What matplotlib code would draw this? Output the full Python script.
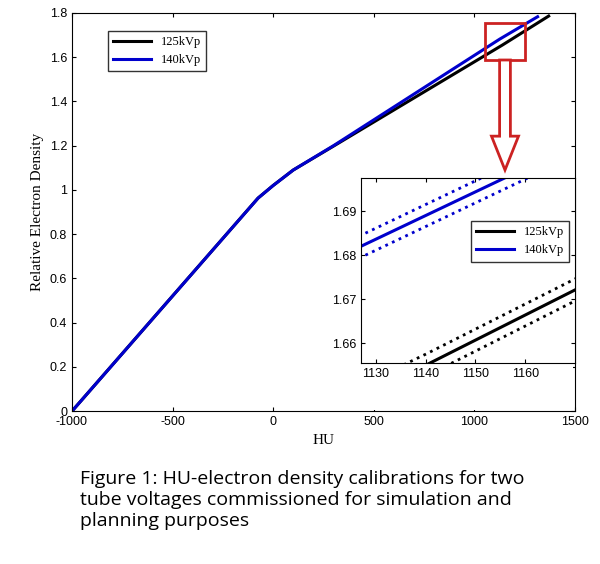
import matplotlib
matplotlib.use("Agg")
import matplotlib.pyplot as plt
import numpy as np
from matplotlib.patches import Rectangle, FancyArrow

plt.rcParams["axes.unicode_minus"] = False

hu_140 = [-1000, -75, 0, 100, 300, 1127, 1315]
ed_140 = [0.0, 0.963, 1.02, 1.09, 1.2, 1.682, 1.783]
hu_125 = [-1000, -75, 0, 100, 300, 1140, 1370]
ed_125 = [0.0, 0.963, 1.02, 1.09, 1.198, 1.655, 1.786]
band = 0.0025
labels = ["125kVp", "140kVp"]
serif = "Liberation Serif"
sans = "Liberation Sans"

fig = plt.figure(figsize=(6, 5.64), dpi=100)
ax = fig.add_axes([0.12, 0.271, 0.838, 0.706])
ax.plot(hu_125, ed_125, color="black", lw=2.2, label=labels[0])
ax.plot(hu_140, ed_140, color="#0000cc", lw=2.2, label=labels[1])
ax.set_xlim(-1000, 1500); ax.set_ylim(0, 1.8)
ax.set_xticks([-1000, -500, 0, 500, 1000, 1500])
ax.set_yticks(np.arange(0, 1.81, 0.2))
ax.set_yticklabels(["0", "0.2", "0.4", "0.6", "0.8", "1", "1.2", "1.4", "1.6", "1.8"])
for t in ax.get_xticklabels() + ax.get_yticklabels():
    t.set_fontfamily(sans); t.set_fontsize(9)
ax.tick_params(direction="in", top=True, right=True, length=3)
ax.set_xlabel("HU", family=serif, fontsize=11)
ax.set_ylabel("Relative Electron Density", family=serif, fontsize=11)
ax.legend(loc="upper left", bbox_to_anchor=(0.06, 0.97), prop={"family": serif, "size": 9},
          fancybox=False, edgecolor="black", handlelength=3)
ax.add_patch(Rectangle((1055, 1.588), 195, 0.168, fill=False, ec="#cc2222", lw=2, zorder=5))
fig.add_artist(FancyArrow(505/600, 1-60/564, 0, -(170-60)/564 + 0.06, width=0.018, head_width=0.045,
                          head_length=0.06, length_includes_head=False, transform=fig.transFigure,
                          fc="white", ec="#cc2222", lw=2))

# white backing for inset (covers main plot area, keeps main axis lines)
ax.add_patch(Rectangle((318/600, 0.271 + 0.002), 0.428 - 0.003, 1-178/564 - 0.271,
                       transform=fig.transFigure, fc="white", ec="none", zorder=6))

ins = fig.add_axes([361/600, 1-363/564, (575-361)/600, (363-178)/564])
for hu, ed, c in [(hu_125, ed_125, "black"), (hu_140, ed_140, "#0000cc")]:
    x = np.array(hu, float); y = np.array(ed, float)
    ins.plot(x, y, color=c, lw=2.2)
    ins.plot(x, y + band, color=c, lw=2, ls=":")
    ins.plot(x, y - band, color=c, lw=2, ls=":")
ins.plot([], [], color="black", lw=2.2, label=labels[0])
ins.plot([], [], color="#0000cc", lw=2.2, label=labels[1])
ins.set_xlim(1127, 1170); ins.set_ylim(1.6555, 1.6975)
ins.set_xticks([1130, 1140, 1150, 1160]); ins.set_yticks([1.66, 1.67, 1.68, 1.69])
for t in ins.get_xticklabels() + ins.get_yticklabels():
    t.set_fontfamily(sans); t.set_fontsize(9)
ins.tick_params(direction="in", top=True, right=True, length=3)
ins.legend(loc="upper right", bbox_to_anchor=(1.0, 0.8), prop={"family": serif, "size": 9},
           fancybox=False, edgecolor="black", handlelength=3)

fig.text(80/600, 1-470/564, "Figure 1: HU-electron density calibrations for two\ntube voltages commissioned for simulation and\nplanning purposes",
         family="Open Sans", fontsize=14, va="top", ha="left", linespacing=1.2)
fig.savefig("out.png")
